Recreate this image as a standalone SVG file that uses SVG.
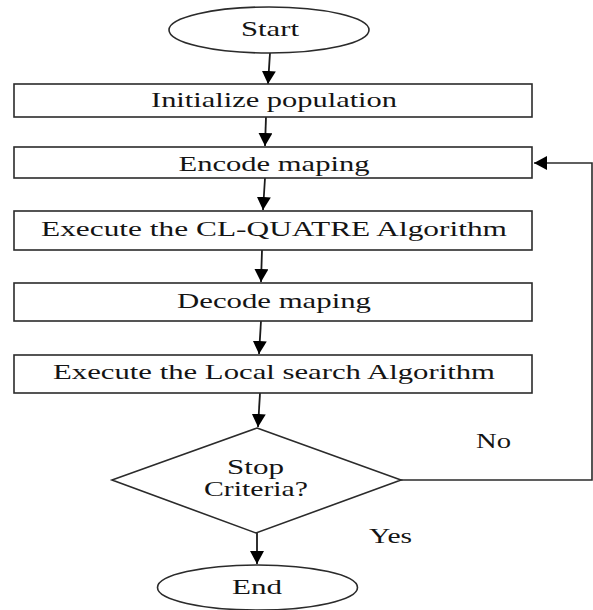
<svg xmlns="http://www.w3.org/2000/svg" width="593" height="610" viewBox="0 0 593 610">
<style>
.shape{fill:#fff;stroke:#2b2b2b;stroke-width:1.6}
.lbl{font-family:"Liberation Serif","Times New Roman",serif;font-size:21px;fill:#141414;text-anchor:middle}
.edge{fill:none;stroke:#1a1a1a;stroke-width:1.8}
.fb{fill:none;stroke:#2b2b2b;stroke-width:1.6}
</style>
<defs>
<marker id="ah" markerUnits="userSpaceOnUse" markerWidth="14" markerHeight="14" refX="13" refY="7" orient="auto">
<path d="M0,0 L13,7 L0,14 z" fill="#000"/>
</marker>
</defs>
<rect width="593" height="610" fill="#fff"/>
<g id="connectors">
<line class="edge" x1="270" y1="53" x2="268" y2="84" marker-end="url(#ah)"/>
<line class="edge" x1="266" y1="117" x2="265" y2="146" marker-end="url(#ah)"/>
<line class="edge" x1="265" y1="178" x2="263" y2="210" marker-end="url(#ah)"/>
<line class="edge" x1="262" y1="250" x2="261" y2="282" marker-end="url(#ah)"/>
<line class="edge" x1="261" y1="321" x2="259" y2="354" marker-end="url(#ah)"/>
<line class="edge" x1="260" y1="393" x2="258" y2="427" marker-end="url(#ah)"/>
<line class="edge" x1="257" y1="533" x2="257" y2="564" marker-end="url(#ah)"/>
<polyline class="fb" points="401,480 592,480 592,163 534,163" marker-end="url(#ah)"/>
<text class="lbl" x="493.5" y="448" textLength="35" lengthAdjust="spacingAndGlyphs">No</text>
<text class="lbl" x="390.5" y="543" textLength="43" lengthAdjust="spacingAndGlyphs">Yes</text>
</g>
<g id="start">
<ellipse class="shape" cx="269" cy="30" rx="100" ry="23"/>
<text class="lbl" x="270" y="36" textLength="58" lengthAdjust="spacingAndGlyphs">Start</text>
</g>
<g id="init">
<rect class="shape" x="14" y="84" width="518" height="33"/>
<text class="lbl" x="274" y="107" textLength="246" lengthAdjust="spacingAndGlyphs">Initialize population</text>
</g>
<g id="encode">
<rect class="shape" x="14" y="147" width="518" height="31"/>
<text class="lbl" x="274" y="171" textLength="191" lengthAdjust="spacingAndGlyphs">Encode maping</text>
</g>
<g id="clquatre">
<rect class="shape" x="14" y="211" width="518" height="39"/>
<text class="lbl" x="274" y="236" textLength="466" lengthAdjust="spacingAndGlyphs">Execute the CL-QUATRE Algorithm</text>
</g>
<g id="decode">
<rect class="shape" x="14" y="283" width="518" height="38"/>
<text class="lbl" x="274" y="308" textLength="194" lengthAdjust="spacingAndGlyphs">Decode maping</text>
</g>
<g id="localsearch">
<rect class="shape" x="14" y="355" width="518" height="38"/>
<text class="lbl" x="274" y="379" textLength="442" lengthAdjust="spacingAndGlyphs">Execute the Local search Algorithm</text>
</g>
<g id="stop">
<polygon class="shape" points="257,428 401,480 256,533 112,480"/>
<text class="lbl" x="255.5" y="474" textLength="57" lengthAdjust="spacingAndGlyphs">Stop</text>
<text class="lbl" x="256" y="496" textLength="104" lengthAdjust="spacingAndGlyphs">Criteria?</text>
</g>
<g id="end">
<ellipse class="shape" cx="257.5" cy="587.5" rx="100" ry="22.5"/>
<text class="lbl" x="257" y="594" textLength="50" lengthAdjust="spacingAndGlyphs">End</text>
</g>
</svg>
